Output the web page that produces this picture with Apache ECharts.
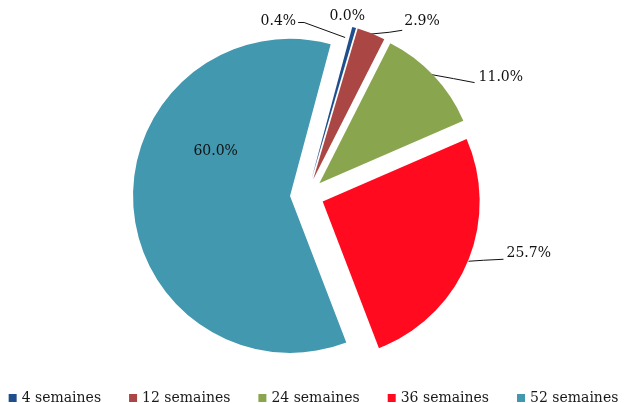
<!DOCTYPE html>
<html><head><meta charset="utf-8">
<script src="https://cdn.jsdelivr.net/npm/echarts@6/dist/echarts.min.js"></script>
<style>html,body{margin:0;padding:0;background:#fff}#c{width:627px;height:403px}</style>
</head><body><div id="c"></div>
<script>
// ---- data ----
const categories = ['4 semaines', '(vide)', '12 semaines', '24 semaines', '36 semaines', '52 semaines'];
const values = [0.4, 0.0, 2.9, 11.0, 25.7, 60.0];
const legendItems = ['4 semaines', '12 semaines', '24 semaines', '36 semaines', '52 semaines'];

// ---- styles ----
const colors = ['#1F4E8C', '#CCCCCC', '#AA4643', '#89A54E', '#FF0A1E', '#4198AF'];
const FONT = 'DejaVu Serif';
const CENTER = [307, 195];
const RADIUS = 157;
const OFFSET = 17;
const START = 75;

const total = values.reduce((a, b) => a + b, 0);
const mids = []; let acc = 0;
values.forEach(v => { mids.push((90 - START) + 360 * (acc + v / 2) / total); acc += v; });
const shift = mids.map(a => [OFFSET * Math.sin(a * Math.PI / 180), -OFFSET * Math.cos(a * Math.PI / 180)]);

// label placement relative to the (exploded) slice's outer edge point
const labelPlace = [
  { t: [-58, -6], align: 'right', line: [[-9, 10], [-50, -5], [-56, -5]] },
  { t: [-9, -12], align: 'center', line: null },
  { t: [33, -12], align: 'left', line: [[-3, 1], [18, -1], [31, -3]] },
  { t: [45, 2], align: 'left', line: [[-2, -1], [20, 3], [41, 7]] },
  { t: [39, -9], align: 'left', line: [[1, -1], [16, -2], [36, -3]] },
  { inside: true, dx: 7, dy: -49 }
];

// visible, exploded slices
const sliceData = categories.map((name, i) => ({
  name: name, value: values[i], selected: true,
  itemStyle: { color: colors[i] }
}));

// transparent twin carrying the labels
const labelData = categories.map((name, i) => {
  const item = { name: name, value: values[i], itemStyle: { color: 'rgba(0,0,0,0)' } };
  if (labelPlace[i].inside) item.label = { position: 'inside' };
  if (!labelPlace[i].inside && !labelPlace[i].line) item.labelLine = { lineStyle: { opacity: 0 } };
  return item;
});

const chart = echarts.init(document.getElementById('c'), null, { renderer: 'canvas' });
chart.setOption({
  backgroundColor: '#ffffff',
  animation: false,
  color: colors,
  legend: {
    data: legendItems,
    top: 386,
    left: 'center',
    icon: 'rect',
    itemWidth: 8,
    itemHeight: 8,
    itemGap: 28,
    textStyle: { fontFamily: FONT, fontSize: 14, color: '#1a1a1a' }
  },
  series: [{
    type: 'pie',
    center: CENTER,
    radius: RADIUS,
    startAngle: START,
    clockwise: true,
    selectedMode: 'multiple',
    selectedOffset: OFFSET,
    emphasis: { disabled: true },
    itemStyle: { borderWidth: 0 },
    label: { show: false },
    labelLine: { show: false },
    data: sliceData
  }, {
    type: 'pie',
    center: CENTER,
    radius: RADIUS,
    startAngle: START,
    clockwise: true,
    silent: true,
    selectedMode: false,
    avoidLabelOverlap: false,
    minShowLabelAngle: 0,
    emphasis: { disabled: true },
    itemStyle: { borderWidth: 0 },
    label: {
      show: true,
      fontFamily: FONT,
      fontSize: 14,
      color: '#111',
      formatter: p => p.value.toFixed(1) + '%'
    },
    labelLine: { show: true, length: 10, length2: 20, smooth: false, lineStyle: { color: '#111', width: 1 } },
    labelLayout: function (params) {
      const i = params.dataIndex;
      const lp = labelPlace[i];
      const s = shift[i];
      if (lp.inside) {
        const r = params.labelRect;
        return {
          x: r.x + r.width / 2 + s[0] + lp.dx,
          y: r.y + r.height / 2 + s[1] + lp.dy,
          align: 'center', verticalAlign: 'middle'
        };
      }
      const p = params.labelLinePoints[0];
      const e = [p[0] + s[0], p[1] + s[1]];
      const res = {
        x: e[0] + lp.t[0],
        y: e[1] + lp.t[1],
        align: lp.align,
        verticalAlign: 'middle'
      };
      res.labelLinePoints = (lp.line || [[0, 0], [0, 0], [0, 0]]).map(q => [e[0] + q[0], e[1] + q[1]]);
      return res;
    },
    data: labelData
  }]
});
</script>
</body></html>
